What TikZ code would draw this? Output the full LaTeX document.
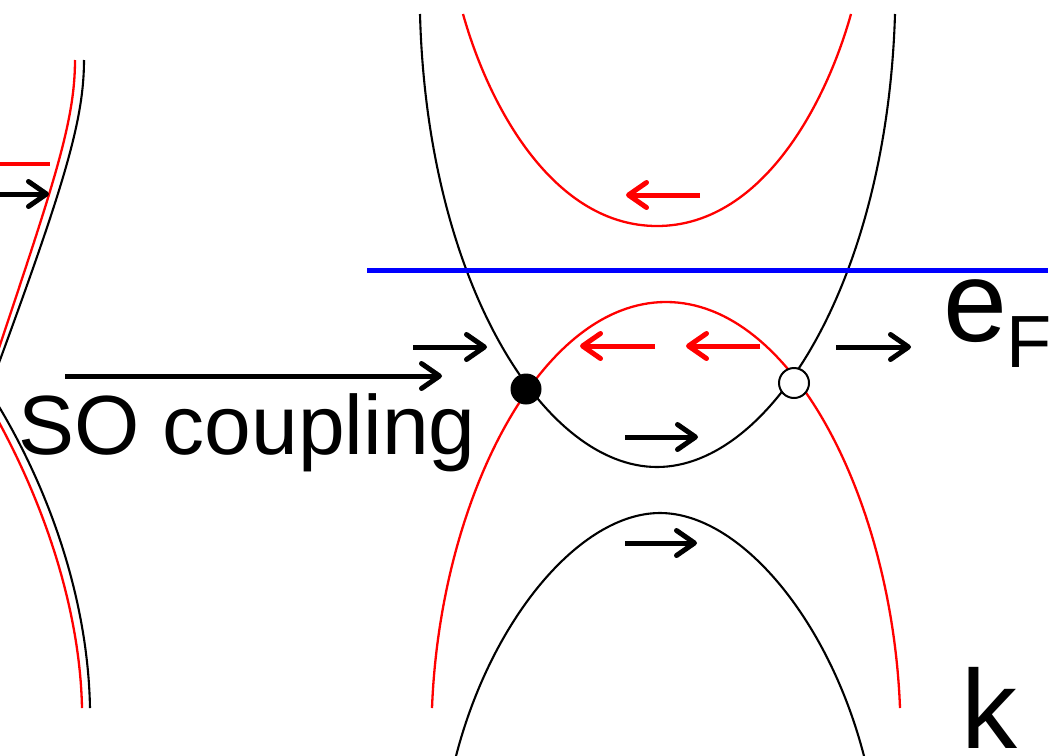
\documentclass[tikz,border=0pt]{standalone}
\usepackage{fontspec}
\setmainfont{Liberation Sans}
\usetikzlibrary{arrows.meta}
\definecolor{bandred}{RGB}{255,0,0}
\definecolor{fermiblue}{RGB}{0,0,255}
\tikzset{
  bandblack/.style={draw=black, line width=2.1pt},
  bandred/.style={draw=bandred, line width=2.3pt},
  spinarrow/.style={line width=5pt, -{Straight Barb[length=18pt,width=25pt,round]}},
  blackarrow/.style={spinarrow, draw=black},
  redarrow/.style={spinarrow, draw=bandred},
  lbl/.style={inner sep=0pt, anchor=base west, text=black},
}
\begin{document}
\begin{tikzpicture}[x=1pt, y=-1pt]
\useasboundingbox (0,0) rectangle (1064,755);

% ---- left band pair ----
\draw[bandred] (75,60) .. controls (75,120) and (55,180) .. (0,345) -- (-6,362);
\draw[bandblack] (84,60) .. controls (84,120) and (64,185) .. (0,360) -- (-6,376);
\draw[bandblack] (-5,400) .. controls (50,490) and (88,600) .. (90,708);
\draw[bandred] (-5,415) .. controls (45,505) and (80,610) .. (82,708);
\draw[draw=bandred, line width=4.5pt] (-2,164) -- (50,164);
\draw[blackarrow] (-2,194) -- (49,194);

% ---- right band structure ----
\draw[bandred] (463,14) .. controls (490,110) and (555,226) .. (657,226)
               .. controls (759,226) and (824,110) .. (851,14);
\draw[bandblack] (420,14) .. controls (427,280) and (543,467) .. (657,467)
                 .. controls (771,467) and (887,280) .. (895,14);
\draw[bandred] (432,708) .. controls (440,500) and (540,302) .. (666,302)
               .. controls (792,302) and (892,500) .. (900,708);
\draw[bandblack] (455,760) .. controls (490,620) and (580,513) .. (660,513)
                 .. controls (740,513) and (830,620) .. (865,760);

% Fermi level
\draw[draw=fermiblue, line width=5pt] (367,270) -- (1048,270);

% spin arrows
\draw[redarrow] (700,195) -- (626,195);
\draw[redarrow] (655,346) -- (580,346);
\draw[redarrow] (760,346) -- (686,346);
\draw[blackarrow] (413,347) -- (487,347);
\draw[blackarrow] (836,347) -- (911,347);
\draw[blackarrow] (625,437) -- (698,437);
\draw[blackarrow] (625,543) -- (697,543);
\draw[blackarrow] (65,376) -- (442,376);

% crossing points
\node[circle, fill=black, draw=black, line width=1pt, minimum size=30pt, inner sep=0pt] (fdot) at (526,389) {};
\node[circle, fill=white, draw=black, line width=2pt, minimum size=30pt, inner sep=0pt] (odot) at (794,383) {};

% labels
\node[lbl, font=\fontsize{84}{90}\selectfont] (so) at (18,454) {SO coupling};
\node[lbl, font=\fontsize{115}{120}\selectfont] (ef) at (943,341) {e\kern-1pt\raisebox{-26pt}{\fontsize{74}{80}\selectfont F}};
\node[lbl, font=\fontsize{112}{120}\selectfont] (k) at (961,748) {k};
\end{tikzpicture}
\end{document}
